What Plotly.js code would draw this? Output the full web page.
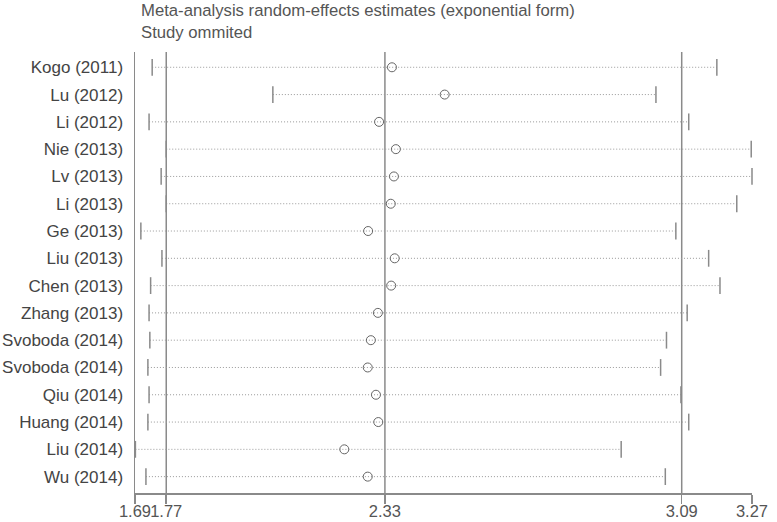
<!DOCTYPE html>
<html>
<head>
<meta charset="utf-8">
<script src="https://cdn.plot.ly/plotly-3.0.1.min.js"></script>
<style>
	html, body { margin: 0; padding: 0; background: #fff; }
	#chart { width: 777px; height: 522px; }
</style>
</head>
<body>
<div id="chart"></div>
<script>
// study omitted, top to bottom
const studies = [
	'Kogo (2011)', 'Lu (2012)', 'Li (2012)', 'Nie (2013)', 'Lv (2013)', 'Li (2013)',
	'Ge (2013)', 'Liu (2013)', 'Chen (2013)', 'Zhang (2013)', 'Svoboda (2014)',
	'Svoboda (2014)', 'Qiu (2014)', 'Huang (2014)', 'Liu (2014)', 'Wu (2014)'
];
const estimate = [2.348, 2.483, 2.315, 2.358, 2.353, 2.345, 2.287, 2.355, 2.346, 2.312, 2.294, 2.286, 2.307, 2.313, 2.226, 2.286];
const lowerCI  = [1.734, 2.043, 1.726, 1.770, 1.757, 1.770, 1.705, 1.759, 1.730, 1.726, 1.728, 1.723, 1.726, 1.723, 1.691, 1.718];
const upperCI  = [3.180, 3.024, 3.108, 3.268, 3.270, 3.231, 3.075, 3.159, 3.188, 3.104, 3.051, 3.036, 3.088, 3.108, 2.935, 3.048];

// overall estimate and its CI (reference lines), plus axis ends
const overall = [1.77, 2.33, 3.09];
const axisTicks = [1.69, 1.77, 2.33, 3.09, 3.27];

(function () {

	'use strict';

	const grey = '#8a8a8a';
	const rows = studies.map(( s, i ) => i );

	/**
	* dotted CI lines, one segment per study
	*/
	const ciLines = () => {
		const x = [], y = [];
		rows.forEach(( i ) => {
			x.push( lowerCI[i], upperCI[i], null );
			y.push( i, i, null );
		});
		return {
			x, y,
			type: 'scatter',
			mode: 'lines',
			line: { color: '#999', width: 1, dash: '1px,2px' },
			hoverinfo: 'skip',
		};
	};

	// end caps
	const caps = {
		x: lowerCI.concat( upperCI ),
		y: rows.concat( rows ),
		type: 'scatter',
		mode: 'markers',
		cliponaxis: false,
		marker: { symbol: 'line-ns-open', size: 12, color: grey, line: { color: grey, width: 1.5 }},
		hoverinfo: 'skip',
	};

	// point estimates
	const points = {
		x: estimate,
		y: rows,
		type: 'scatter',
		mode: 'markers',
		marker: { symbol: 'circle-open', size: 9, color: '#666', line: { color: '#666', width: 1 }},
	};

	const shapes = overall.map(( v ) => ({
		type: 'line', xref: 'x', yref: 'paper',
		x0: v, x1: v, y0: 0, y1: 1,
		line: { color: grey, width: 1.5 },
		layer: 'below',
	}));

	// two-line heading, top left
	const heading = {
		text: 'Meta-analysis random-effects estimates (exponential form)<br>Study ommited',
		xref: 'paper', x: 0.0065, xanchor: 'left',
		yref: 'paper', y: 1.12, yanchor: 'top',
		align: 'left',
		showarrow: false,
		font: { size: 16.7, color: '#555' },
	};

	const layout = {
		width: 777,
		height: 522,
		margin: { l: 135, r: 25, t: 52, b: 29 },
		paper_bgcolor: '#fff',
		plot_bgcolor: '#fff',
		showlegend: false,
		font: { family: 'Liberation Sans, Arial, sans-serif', color: '#555' },
		xaxis: {
			range: [ 1.69, 3.27 ],
			tickvals: axisTicks,
			ticktext: axisTicks.map(( v ) => v.toFixed(2)),
			tickangle: 0,
			automargin: false,
			ticks: 'outside', ticklen: 9, tickwidth: 1.5, tickcolor: grey,
			ticklabelstandoff: -6,
			showline: true, linecolor: grey, linewidth: 1.5,
			showgrid: false, zeroline: false,
			tickfont: { size: 16.5, color: '#555' },
		},
		yaxis: {
			range: [ 15.6, -0.56 ],
			tickvals: rows,
			ticktext: studies,
			ticks: '',
			ticklabelstandoff: 7,
			automargin: false,
			showline: true, linecolor: grey, linewidth: 1.5,
			showgrid: false, zeroline: false,
			tickfont: { size: 17, color: '#444' },
		},
		annotations: [ heading ],
		shapes,
	};

	Plotly.newPlot( 'chart', [ ciLines(), caps, points ], layout, { displayModeBar: false, staticPlot: true });

})();
</script>
</body>
</html>
